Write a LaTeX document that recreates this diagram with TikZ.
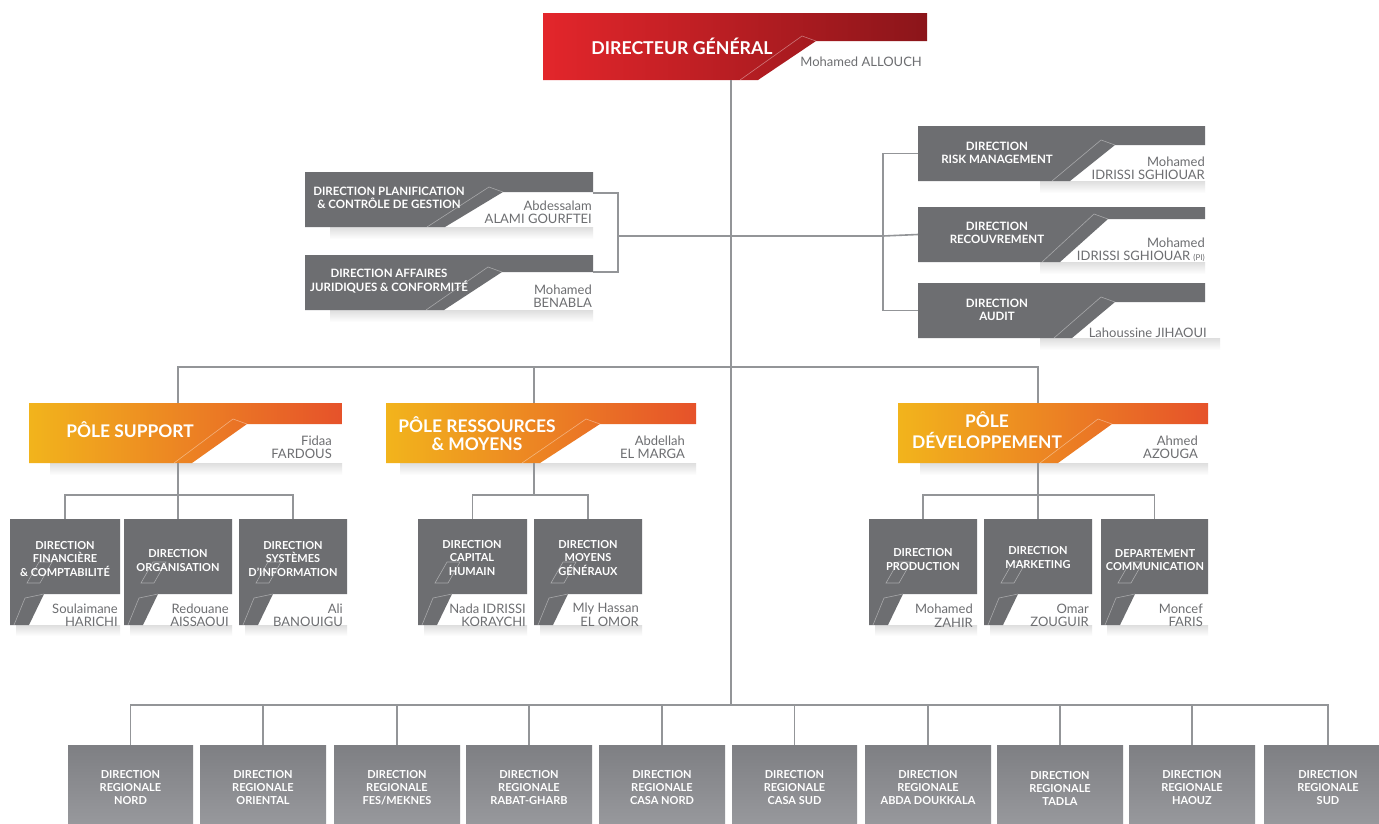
\documentclass[tikz,border=0pt]{standalone}
\usepackage{fontspec}
\setmainfont{Lato}
\usetikzlibrary{fit,calc}
\definecolor{dgray}{HTML}{6D6E71}
\definecolor{lgray}{HTML}{939598}
\definecolor{ngray}{HTML}{6D6E71}
\definecolor{redA}{HTML}{E3262B}
\definecolor{redB}{HTML}{8B151A}
\definecolor{orA}{HTML}{F2B41C}
\definecolor{orM}{HTML}{EC8A27}
\definecolor{orB}{HTML}{E6522A}
\definecolor{regA}{HTML}{7E7F83}
\definecolor{regB}{HTML}{97989C}
\tikzset{
 conn/.style={draw=lgray, line width=1.6pt},
 deco/.style={draw=white, draw opacity=0.4, line width=0.6pt},
 boxfit/.style={inner sep=0pt, draw=none},
 dgtitle/.style={text=white, font=\bfseries\fontsize{17.7}{20}\selectfont},
 poletitle/.style={text=white, font=\bfseries\fontsize{17.4}{18}\selectfont, align=center},
 stafftxt/.style={text=white, font=\bfseries\fontsize{11.5}{13.5}\selectfont, align=center},
 subtxt/.style={text=white, font=\bfseries\fontsize{11}{13.5}\selectfont, align=center},
 regtxt/.style={text=white, font=\bfseries\fontsize{11}{13}\selectfont, align=center},
 nametxt/.style={text=ngray, font=\fontsize{13}{13.5}\selectfont, align=right, anchor=east, inner sep=0pt},
 dgfill/.style={left color=redA, middle color=redB!92!redA, right color=redB},
 polefill/.style={left color=orA, middle color=orM, right color=orB},
 darkfill/.style={fill=dgray},
 regfill/.style={top color=regA, bottom color=regB}
}
% name, x1, ytop, x2, yband, ybot, xslanttop, xslantbottom, fill
\newcommand\tabbox[9]{%
  \path[#9] (#2,#3) -- (#4,#3) -- (#4,#5) -- (#7,#5) -- (#8,#6) -- (#2,#6) -- cycle;
  \draw[deco] (#8-18,#6) -- (#7-14,#5-5) -- (#7,#5);
  \coordinate (#1-nw) at (#2,#3);
  \coordinate (#1-se) at (#4,#6);
  \node[boxfit, fit=(#1-nw)(#1-se)] (#1) {};
}
% x1, x2, ybot
\newcommand\boxshadow[3]{%
  \shade[top color=black!13, bottom color=white] (#1,#3) rectangle (#2,#3+12);
}
% name, x1, x2
\newcommand\subbox[3]{%
  \shade[top color=black!13, bottom color=white] (#2+6,625) rectangle (#3,636);
  \path[darkfill] (#2,519) -- (#3,519) -- (#3,594) -- (#2+34,594) -- (#2+19,625) -- (#2,625) -- cycle;
  \draw[deco] (#2+4,625) -- (#2+15,598) -- (#2+34,594);
  \draw[deco] (#2+17,583) -- (#2+30,583) -- (#2+42,562) -- (#2+29,562) -- cycle;
  \coordinate (#1-nw) at (#2,519);
  \coordinate (#1-se) at (#3,625);
  \node[boxfit, fit=(#1-nw)(#1-se)] (#1) {};
}
% name, x1, x2, text
\newcommand\regbox[4]{%
  \path[regfill] (#2,745) rectangle (#3,823);
  \coordinate (#1-nw) at (#2,745);
  \coordinate (#1-se) at (#3,823);
  \node[boxfit, fit=(#1-nw)(#1-se)] (#1) {};
  \node[regtxt] (#1-t) at ($(#1.center)+(0,4)$) {#4};
}
\begin{document}
\begin{tikzpicture}[x=1pt,y=-1pt]
\useasboundingbox (0,0) rectangle (1379,823);
\fill[white] (0,0) rectangle (1379,823);

% ---------- connector coordinates ----------
\coordinate (dgout) at (731,80);
\coordinate (hubReg) at (731,705);
\coordinate (plan-tab) at (593,193);
\coordinate (jur-tab) at (593,272);
\coordinate (lbr) at (618,236);
\coordinate (rbr) at (883,236);
\coordinate (hubPole) at (731,367);
\coordinate (ps-top) at (178,403);
\coordinate (pr-top) at (534,403);
\coordinate (pd-top) at (1038,403);
\coordinate (ps-bot) at (178,463);
\coordinate (pr-bot) at (534,463);
\coordinate (pd-bot) at (1038,463);
\coordinate (ps-bus) at (178,495);
\coordinate (pr-bus) at (534,495);
\coordinate (pd-bus) at (1038,495);

% ---------- shadows ----------
\boxshadow{330}{593}{227}
\boxshadow{330}{593}{310}
\boxshadow{1040}{1205}{181}
\boxshadow{1040}{1205}{262}
\boxshadow{1040}{1220}{338}
\boxshadow{50}{342}{463}
\boxshadow{400}{696}{463}
\boxshadow{920}{1208}{463}

% ---------- directeur general ----------
\tabbox{dg}{543}{13}{927}{41}{80}{816}{758}{dgfill}
\node[dgtitle] (dg-t) at (682,46) {DIRECTEUR GÉNÉRAL};
\node[nametxt] (dg-n) at (922,62) {Mohamed ALLOUCH};

% ---------- staff left ----------
\tabbox{plan}{305}{172}{593}{192}{227}{503}{445}{darkfill}
\node[stafftxt] (plan-t) at (389,198) {DIRECTION PLANIFICATION\\\& CONTRÔLE DE GESTION};
\node[nametxt] (plan-n) at (592,212.5) {Abdessalam\\ALAMI GOURFTEI};

\tabbox{jur}{305}{255}{593}{272}{310}{502}{444}{darkfill}
\node[stafftxt] (jur-t) at (389,281) {DIRECTION AFFAIRES\\JURIDIQUES \& CONFORMITÉ};
\node[nametxt] (jur-n) at (592,296) {Mohamed\\BENABLA};

% ---------- staff right ----------
\tabbox{rm}{918}{126}{1205}{145}{181}{1115}{1070}{darkfill}
\node[stafftxt] (rm-t) at (997,153) {DIRECTION\\RISK MANAGEMENT};
\node[nametxt] (rm-n) at (1205,168.5) {Mohamed\\IDRISSI SGHIOUAR};

\tabbox{rec}{918}{207}{1205}{219}{262}{1108}{1060}{darkfill}
\node[stafftxt] (rec-t) at (997,233) {DIRECTION\\RECOUVREMENT};
\node[nametxt] (rec-n) at (1205,250) {Mohamed\\IDRISSI SGHIOUAR {\fontsize{8}{9}\selectfont(PI)}};

\tabbox{aud}{918}{283}{1205}{302}{338}{1115}{1072}{darkfill}
\node[stafftxt] (aud-t) at (997,310) {DIRECTION\\AUDIT};
\node[nametxt] (aud-n) at (1207,333) {Lahoussine JIHAOUI};

% ---------- poles ----------
\tabbox{ps}{29}{403}{342}{424}{463}{247}{192}{polefill}
\node[poletitle] (ps-t) at (130,430) {PÔLE SUPPORT};
\node[nametxt] (ps-n) at (332,447.5) {Fidaa\\FARDOUS};

\tabbox{pr}{386}{403}{696}{424}{463}{600}{540}{polefill}
\node[poletitle] (pr-t) at (477,434) {PÔLE RESSOURCES\\\& MOYENS};
\node[nametxt] (pr-n) at (685,447.5) {Abdellah\\EL MARGA};

\tabbox{pd}{898}{403}{1208}{424}{463}{1112}{1058}{polefill}
\node[poletitle, font=\bfseries\fontsize{17.4}{21}\selectfont] (pd-t) at (987,430) {PÔLE\\DÉVELOPPEMENT};
\node[nametxt] (pd-n) at (1198,447.5) {Ahmed\\AZOUGA};

% ---------- sub directions ----------
\subbox{s1}{10}{120}
\node[subtxt] (s1-t) at (65,559) {DIRECTION\\FINANCIÈRE\\\& COMPTABILITÉ};
\node[nametxt] (s1-n) at (118,615.5) {Soulaimane\\HARICHI};
\subbox{s2}{124}{232}
\node[subtxt] (s2-t) at (178,560.5) {DIRECTION\\ORGANISATION};
\node[nametxt] (s2-n) at (229,615.5) {Redouane\\AISSAOUI};
\subbox{s3}{239}{347}
\node[subtxt] (s3-t) at (293,559) {DIRECTION\\SYSTÈMES\\D’INFORMATION};
\node[nametxt] (s3-n) at (343,615.5) {Ali\\BANOUIGU};

\subbox{s4}{418}{527}
\node[subtxt] (s4-t) at (472,558) {DIRECTION\\CAPITAL\\HUMAIN};
\node[nametxt] (s4-n) at (526,615.5) {Nada IDRISSI\\KORAYCHI};
\subbox{s5}{534}{642}
\node[subtxt] (s5-t) at (588,558) {DIRECTION\\MOYENS\\GÉNÉRAUX};
\node[nametxt] (s5-n) at (639,614.5) {Mly Hassan\\EL OMOR};

\subbox{s6}{869}{977}
\node[subtxt] (s6-t) at (923,559.5) {DIRECTION\\PRODUCTION};
\node[nametxt] (s6-n) at (973,615.5) {Mohamed\\ZAHIR};
\subbox{s7}{984}{1092}
\node[subtxt] (s7-t) at (1038,557.5) {DIRECTION\\MARKETING};
\node[nametxt] (s7-n) at (1089,615.5) {Omar\\ZOUGUIR};
\subbox{s8}{1101}{1208}
\node[subtxt] (s8-t) at (1155,560) {DEPARTEMENT\\COMMUNICATION};
\node[nametxt] (s8-n) at (1203,615.5) {Moncef\\FARIS};

% ---------- regional ----------
\regbox{r1}{68}{193}{DIRECTION\\REGIONALE\\NORD}
\regbox{r2}{200}{326}{DIRECTION\\REGIONALE\\ORIENTAL}
\regbox{r3}{334}{460}{DIRECTION\\REGIONALE\\FES/MEKNES}
\regbox{r4}{466}{592}{DIRECTION\\REGIONALE\\RABAT-GHARB}
\regbox{r5}{599}{725}{DIRECTION\\REGIONALE\\CASA NORD}
\regbox{r6}{732}{857}{DIRECTION\\REGIONALE\\CASA SUD}
\regbox{r7}{865}{991}{DIRECTION\\REGIONALE\\ABDA DOUKKALA}
\regbox{r8}{997}{1123}{DIRECTION\\REGIONALE\\TADLA}
\regbox{r9}{1129}{1255}{DIRECTION\\REGIONALE\\HAOUZ}
\regbox{r10}{1264}{1392}{DIRECTION\\REGIONALE\\SUD}

% ---------- connectors ----------
\draw[conn] (dgout) -- (hubReg);
\draw[conn] (plan-tab) -| (lbr) |- (jur-tab);
\draw[conn] (lbr) -- (rbr);
\draw[conn] (rm.west) -| (rbr) |- (aud.west);
\draw[conn] (rbr) -- (rec.west);
\draw[conn] (ps-top) |- (hubPole) -| (pd-top);
\draw[conn] (pr-top) -- (pr-top |- hubPole);
\draw[conn] (ps-bot) -- (s2.north);
\draw[conn] (s1.north) |- (ps-bus) -| (s3.north);
\draw[conn] (pr-bot) -- (pr-bus);
\draw[conn] (s4.north) |- (pr-bus) -| (s5.north);
\draw[conn] (pd-bot) -- (s7.north);
\draw[conn] (s6.north) |- (pd-bus) -| (s8.north);
\draw[conn] (r1.north) |- (hubReg) -| (r10.north);
\foreach \r in {r2,r3,r4,r5,r6,r7,r8,r9}{
  \draw[conn] (\r.north) -- (\r.north |- hubReg);
}
\end{tikzpicture}
\end{document}
